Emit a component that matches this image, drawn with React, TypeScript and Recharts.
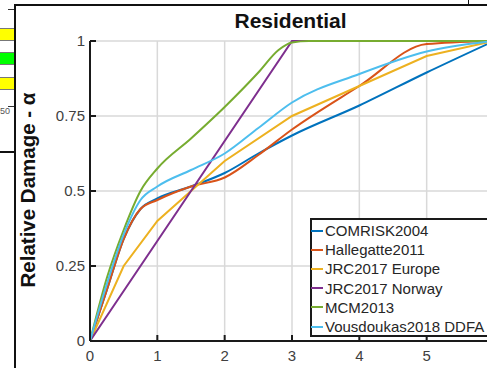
import { LineChart, Line, XAxis, YAxis, CartesianGrid } from 'recharts'

// tick labels
const xTicks = [0, 1, 2, 3, 4, 5, 6]
const yTicks = [0, 0.25, 0.5, 0.75, 1]

// depth (m) / relative damage
const comriskX = [0, 0.25, 0.5, 0.75, 1, 1.5, 2, 2.5, 3, 4, 5, 6]
const comriskY = [0, 0.17, 0.34, 0.44, 0.475, 0.515, 0.56, 0.625, 0.685, 0.785, 0.895, 1]

const hallegatteX = [0, 0.25, 0.5, 0.75, 1, 1.5, 2, 2.5, 3, 4, 5, 6]
const hallegatteY = [0, 0.17, 0.34, 0.44, 0.47, 0.515, 0.545, 0.62, 0.705, 0.85, 0.99, 1]

const jrcEuropeX = [0, 0.5, 1, 1.5, 2, 3, 4, 5, 6]
const jrcEuropeY = [0, 0.25, 0.4, 0.5, 0.6, 0.75, 0.85, 0.95, 1]

const jrcNorwayX = [0, 3, 6]
const jrcNorwayY = [0, 1, 1]

const mcmX = [0, 0.25, 0.5, 0.75, 1, 1.5, 2, 2.5, 2.8, 3, 3.25, 6]
const mcmY = [0, 0.21, 0.37, 0.5, 0.575, 0.675, 0.78, 0.895, 0.97, 0.995, 1, 1]

const vousX = [0, 0.25, 0.5, 0.75, 1, 1.5, 2, 2.5, 3, 4, 5, 6]
const vousY = [0, 0.19, 0.355, 0.47, 0.515, 0.57, 0.625, 0.71, 0.795, 0.89, 0.965, 1]

const names = ['COMRISK2004', 'Hallegatte2011', 'JRC2017 Europe', 'JRC2017 Norway', 'MCM2013', 'Vousdoukas2018 DDFA']
const colors = ['#0072BD', '#D95319', '#EDB120', '#7E2F8E', '#77AC30', '#4DBEEE']
const curveTypes = ['monotone', 'monotone', 'linear', 'linear', 'monotone', 'monotone'] as const

const toPoints = (xs: number[], ys: number[]) => xs.map((x, i) => ({ x, y: ys[i] }))

const series = [
  toPoints(comriskX, comriskY),
  toPoints(hallegatteX, hallegatteY),
  toPoints(jrcEuropeX, jrcEuropeY),
  toPoints(jrcNorwayX, jrcNorwayY),
  toPoints(mcmX, mcmY),
  toPoints(vousX, vousY),
]

const font = '"Liberation Sans", Arial, sans-serif'
const tickColor = '#404040'
const visibleWidth = 487

function YTick(props: any) {
  const { x, y, payload } = props
  return (
    <g>
      <line x1={x} x2={x + 6} y1={y} y2={y} stroke="#1a1a1a" strokeWidth={2} />
      <text x={x - 5} y={y + 5} textAnchor="end" fontSize={15} fill={tickColor} fontFamily={font}>
        {payload.value}
      </text>
    </g>
  )
}

function XTick(props: any) {
  const { x, y, payload } = props
  // the figure is cropped on the right: the last label falls outside it
  const showLabel = x + 5 < visibleWidth
  return (
    <g>
      <line x1={x} x2={x} y1={y} y2={y - 6} stroke="#1a1a1a" strokeWidth={2} />
      {showLabel && (
        <text x={x} y={y + 20} textAnchor="middle" fontSize={15} fill={tickColor} fontFamily={font}>
          {payload.value}
        </text>
      )}
    </g>
  )
}

export default function App() {
  return (
    <div
      style={{
        position: 'absolute',
        left: 0,
        top: 0,
        width: visibleWidth,
        height: 368,
        overflow: 'hidden',
        background: '#fff',
        fontFamily: font,
      }}
    >
      {/* bits of the neighbouring panel */}
      <div style={{ position: 'absolute', left: 0, top: 28, width: 14, height: 11, background: '#ffff00', borderTop: '1px solid #777', borderBottom: '1px solid #777' }} />
      <div style={{ position: 'absolute', left: 0, top: 52, width: 14, height: 11, background: '#00ff00', borderTop: '1px solid #777', borderBottom: '1px solid #777' }} />
      <div style={{ position: 'absolute', left: 0, top: 77, width: 14, height: 11, background: '#ffff00', borderTop: '1px solid #777', borderBottom: '1px solid #777' }} />
      <div style={{ position: 'absolute', left: 8, top: 9, width: 6, height: 1, background: '#333' }} />
      <div style={{ position: 'absolute', left: 8, top: 106, width: 6, height: 1, background: '#333' }} />
      <div style={{ position: 'absolute', left: 0, top: 106, fontSize: 9, color: '#555' }}>50</div>
      <div style={{ position: 'absolute', left: 0, top: 151, width: 16, height: 2, background: '#111' }} />
      <div style={{ position: 'absolute', left: 14, top: 4, width: 2, height: 364, background: '#111' }} />
      <div style={{ position: 'absolute', left: 14, top: 4, width: 473, height: 2, background: '#111' }} />
      <div style={{ position: 'absolute', left: 468, top: 0, width: 1, height: 5, background: '#111' }} />

      <div style={{ position: 'absolute', left: 0, top: 0 }}>
        <LineChart width={520} height={368} margin={{ top: 41, right: 26, bottom: 0, left: 0 }}>
          <CartesianGrid stroke="#d9d9d9" strokeWidth={1.5} />
          <XAxis
            dataKey="x"
            type="number"
            domain={[0, 6]}
            ticks={xTicks}
            allowDataOverflow
            height={27}
            tickLine={false}
            tickSize={0}
            tickMargin={0}
            tick={<XTick />}
            axisLine={{ stroke: '#1a1a1a', strokeWidth: 2 }}
          />
          <YAxis
            type="number"
            domain={[0, 1]}
            ticks={yTicks}
            width={90}
            tickLine={false}
            tickSize={0}
            tickMargin={0}
            tick={<YTick />}
            axisLine={{ stroke: '#1a1a1a', strokeWidth: 2 }}
          />
          {series.map((pts, i) => (
            <Line
              key={names[i]}
              data={pts}
              dataKey="y"
              name={names[i]}
              type={curveTypes[i]}
              stroke={colors[i]}
              strokeWidth={2}
              dot={false}
              isAnimationActive={false}
            />
          ))}
        </LineChart>
      </div>

      <svg width={487} height={368} style={{ position: 'absolute', left: 0, top: 0, pointerEvents: 'none' }}>
        <text x={290.5} y={28} textAnchor="middle" fontSize={21} fontWeight="bold" fill="#111" fontFamily={font}>
          Residential
        </text>
        <text
          transform="translate(35,190) rotate(-90)"
          textAnchor="middle"
          fontSize={20.5}
          fontWeight="bold"
          fill="#111"
          fontFamily={font}
        >
          Relative Damage - α
        </text>
      </svg>

      <div
        style={{
          position: 'absolute',
          left: 310,
          top: 218,
          width: 200,
          height: 119,
          boxSizing: 'border-box',
          border: '2px solid #1a1a1a',
          background: '#fff',
          paddingTop: 1,
        }}
      >
        {names.map((n, i) => (
          <div key={n} style={{ display: 'flex', alignItems: 'center', height: 19.2 }}>
            <span style={{ display: 'inline-block', width: 12, height: 2, marginLeft: -1, background: colors[i] }} />
            <span style={{ marginLeft: 2, fontSize: 15, color: '#262626', whiteSpace: 'nowrap' }}>{n}</span>
          </div>
        ))}
      </div>
    </div>
  )
}
